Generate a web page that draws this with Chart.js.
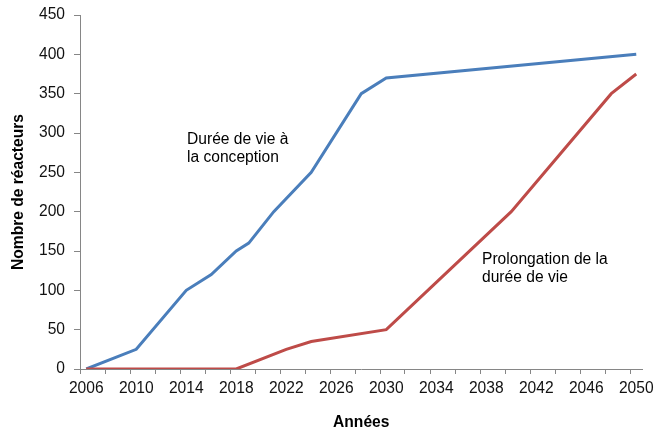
<!DOCTYPE html>
<html>
<head>
<meta charset="utf-8">
<script src="https://cdn.jsdelivr.net/npm/chart.js@4/dist/chart.umd.min.js"></script>
<style>
html,body{margin:0;padding:0;background:#fff;}
#wrap{width:656px;height:432px;}
</style>
</head>
<body>
<div id="wrap"><canvas id="c" width="656" height="432"></canvas></div>
<script>
// ---- Data ----
const designYears  = [2006, 2010, 2014, 2016, 2018, 2019, 2021, 2024, 2028, 2030, 2050];
const designValues = [0, 25, 100, 120, 150, 160, 200, 250, 350, 370, 400];
const extYears     = [2006, 2018, 2022, 2024, 2030, 2040, 2048, 2050];
const extValues    = [0, 0, 25, 35, 50, 200, 350, 375];
const xTickYears   = [2006, 2010, 2014, 2018, 2022, 2026, 2030, 2034, 2038, 2042, 2046, 2050];
const yTickValues  = [0, 50, 100, 150, 200, 250, 300, 350, 400, 450];
const designLabel  = ['Durée de vie à', 'la conception'];
const extLabel     = ['Prolongation de la', 'durée de vie'];
const xTitle = 'Années';
const yTitle = 'Nombre de réacteurs';

// ---- Styles ----
const FONT = "'Liberation Sans', Arial, sans-serif";
const FS = 15.6;
const axisColor = '#868686';
const textColor = '#111111';
const blue = '#4A7EBB';
const red = '#BE4B48';

const toPoints = (xs, ys) => xs.map((x, i) => ({x: x, y: ys[i]}));

const annotPlugin = {
  id: 'annot',
  afterDatasetsDraw(chart, args, opts) {
    const ctx = chart.ctx;
    const xs = chart.scales.x, ys = chart.scales.y;
    ctx.save();
    ctx.font = opts.size + 'px ' + FONT;
    ctx.fillStyle = opts.color;
    ctx.textAlign = 'left';
    ctx.textBaseline = 'middle';
    opts.items.forEach(it => {
      const px = xs.getPixelForValue(it.x);
      const py = ys.getPixelForValue(it.y);
      it.lines.forEach((ln, i) => ctx.fillText(ln, px, py + i * opts.lineHeight));
    });
    ctx.restore();
  }
};

new Chart(document.getElementById('c'), {
  type: 'line',
  data: {
    datasets: [
      {
        label: extLabel.join(' '),
        data: toPoints(extYears, extValues),
        borderColor: red,
        backgroundColor: red,
        borderWidth: 3,
        pointRadius: 0,
        tension: 0,
        fill: false
      },
      {
        label: designLabel.join(' '),
        data: toPoints(designYears, designValues),
        borderColor: blue,
        backgroundColor: blue,
        borderWidth: 3,
        pointRadius: 0,
        tension: 0,
        fill: false
      }
    ]
  },
  options: {
    responsive: false,
    animation: false,
    devicePixelRatio: 1,
    layout: { padding: { left: 9.6, right: 13.5, top: 15, bottom: 0 } },
    plugins: {
      legend: { display: false },
      tooltip: { enabled: false },
      annot: {
        size: FS,
        color: '#000000',
        lineHeight: 17.8,
        items: [
          { lines: designLabel, x: 2014.06, y: 291 },
          { lines: extLabel, x: 2037.66, y: 138.6 }
        ]
      }
    },
    scales: {
      x: {
        type: 'linear',
        min: 2005.5,
        max: 2050.5,
        afterBuildTicks: (s) => {
          const t = [];
          for (let v = 2005.5; v < 2050.5; v += 2) t.push({value: v});
          xTickYears.forEach(v => t.push({value: v}));
          t.sort((a, b) => a.value - b.value);
          s.ticks = t;
        },
        afterFit: (s) => { s.height = 63; s.paddingLeft = 0; s.paddingRight = 0; },
        ticks: {
          autoSkip: false,
          maxRotation: 0,
          minRotation: 0,
          padding: 5,
          color: textColor,
          font: { family: FONT, size: FS },
          callback: (v) => xTickYears.includes(v) ? String(v) : ''
        },
        grid: {
          drawOnChartArea: false,
          tickLength: 5,
          tickWidth: 1,
          tickColor: (c) => (c.tick && xTickYears.includes(c.tick.value)) ? 'rgba(0,0,0,0)' : axisColor
        },
        border: { color: axisColor, width: 1 },
        title: {
          display: true,
          text: xTitle,
          color: '#000000',
          font: { family: FONT, size: FS, weight: 'bold' },
          padding: { top: 15.5, bottom: 0 }
        }
      },
      y: {
        type: 'linear',
        min: 0,
        max: 450,
        afterBuildTicks: (s) => { s.ticks = yTickValues.map(v => ({value: v})); },
        afterFit: (s) => { s.width = 70.4; s.paddingTop = 0; s.paddingBottom = 0; },
        ticks: {
          padding: 9,
          color: textColor,
          font: { family: FONT, size: FS }
        },
        grid: {
          drawOnChartArea: false,
          tickLength: 6,
          tickWidth: 1,
          tickColor: axisColor
        },
        border: { color: axisColor, width: 1 },
        title: {
          display: true,
          text: yTitle,
          color: '#000000',
          font: { family: FONT, size: FS, weight: 'bold' },
          padding: { top: 0, bottom: 10.7 }
        }
      }
    }
  },
  plugins: [annotPlugin]
});
</script>
</body>
</html>
